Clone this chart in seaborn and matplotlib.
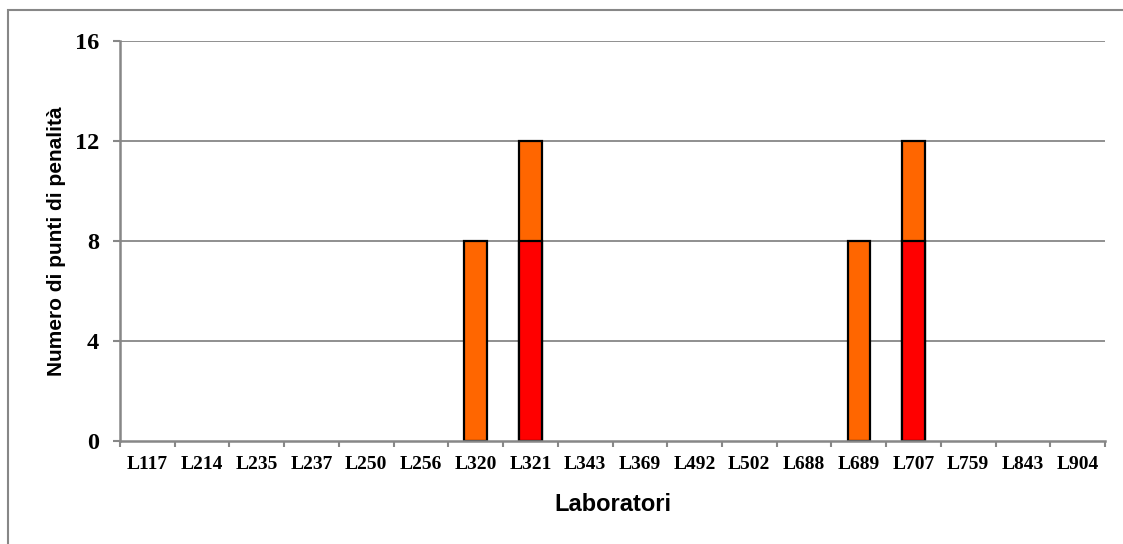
import matplotlib
matplotlib.use("Agg")
import matplotlib.pyplot as plt
import seaborn as sns
import pandas as pd
from matplotlib.patches import Rectangle

labs = ["L117", "L214", "L235", "L237", "L250", "L256", "L320", "L321", "L343",
        "L369", "L492", "L502", "L688", "L689", "L707", "L759", "L843", "L904"]
red_vals = [0, 0, 0, 0, 0, 0, 0, 8, 0, 0, 0, 0, 0, 0, 8, 0, 0, 0]
orange_vals = [0, 0, 0, 0, 0, 0, 8, 4, 0, 0, 0, 0, 0, 8, 4, 0, 0, 0]
yticks = [0, 4, 8, 12, 16]

df = pd.DataFrame({"lab": labs, "red": red_vals, "orange": orange_vals})
df["total"] = df["red"] + df["orange"]

sns.set_style("white")
plt.rcParams["text.color"] = "black"
plt.rcParams["axes.labelcolor"] = "black"
plt.rcParams["xtick.labelcolor"] = "black"
plt.rcParams["ytick.labelcolor"] = "black"

fig = plt.figure(figsize=(11.23, 5.44), dpi=100)
ax = fig.add_axes([120/1123, 1-441/544, (1105-120)/1123, 400/544])

GRAY = "#878787"
ax.set_axisbelow(True)
for y in yticks[1:]:
    ax.axhline(y, color=GRAY, lw=1.3, zorder=0)

sns.barplot(data=df, x="lab", y="total", order=labs, color="#FF6600",
            width=0.41, edgecolor="black", linewidth=1.6, saturation=1, ax=ax, zorder=2)
sns.barplot(data=df, x="lab", y="red", order=labs, color="#FF0000",
            width=0.41, edgecolor="black", linewidth=1.6, saturation=1, ax=ax, zorder=3)
for p in ax.patches:
    if p.get_height() == 0:
        p.set_linewidth(0)

ax.set_xlim(-0.5, len(labs) - 0.5)
ax.set_ylim(0, 16)
ax.set_yticks(yticks)
ax.set_xticks(range(len(labs)))
ax.set_xticklabels(labs)
ax.set_xticks([i - 0.5 for i in range(len(labs) + 1)], minor=True)

for s in ["top", "right"]:
    ax.spines[s].set_visible(False)
for s in ["left", "bottom"]:
    ax.spines[s].set_color(GRAY)
    ax.spines[s].set_linewidth(1.8)
    ax.spines[s].set_zorder(4)

ax.tick_params(axis="y", which="major", left=True, length=5, width=1.5, color=GRAY, pad=10)
ax.tick_params(axis="x", which="major", bottom=False, length=0, pad=11)
ax.tick_params(axis="x", which="minor", bottom=True, length=4, width=1.5, color=GRAY)

for t in ax.get_xticklabels():
    t.set_fontfamily("Liberation Serif")
    t.set_fontweight("bold")
    t.set_fontsize(14)
    t.set_color("black")
for t in ax.get_yticklabels():
    t.set_fontfamily("Liberation Serif")
    t.set_fontweight("bold")
    t.set_fontsize(17.5)
    t.set_color("black")

ax.set_xlabel("Laboratori", fontfamily="Liberation Sans", fontweight="bold", fontsize=17, color="black")
ax.set_ylabel("Numero di punti di penalità", fontfamily="Liberation Sans", fontweight="bold",
              fontsize=15, color="black")
ax.xaxis.set_label_coords(0.5, -0.13)
ax.yaxis.set_label_coords(-0.064, 0.5)
ax.yaxis.label.set_va("center")

fig.patches.append(Rectangle((8/1123, -0.1), 1.2, (1-10/544) + 0.1, transform=fig.transFigure,
                             fill=False, edgecolor=GRAY, linewidth=1.5))

fig.savefig("out.png", dpi=100)
